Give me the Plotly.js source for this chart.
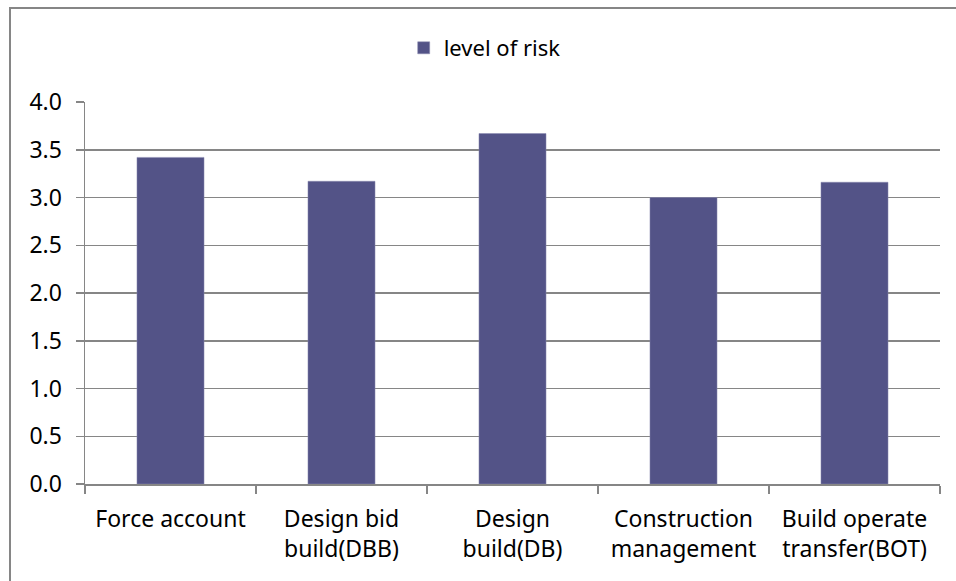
<!DOCTYPE html>
<html>
<head>
<meta charset="utf-8">
<script src="https://cdn.plot.ly/plotly-3.0.1.min.js"></script>
<style>
  html, body { margin: 0; padding: 0; background: #fff; }
  #wrap { position: relative; width: 956px; height: 581px; overflow: hidden; }
  #chart { position: absolute; left: 0; top: 0; width: 956px; height: 581px; }
  #frame { position: absolute; left: 9px; top: 7px; width: 1000px; height: 700px;
           border-left: 2px solid #868686; border-top: 2px solid #868686;
           pointer-events: none; z-index: 10; }
</style>
</head>
<body>
<div id="wrap">
  <div id="chart"></div>
  <div id="frame"></div>
</div>
<script>
const categories = [
  "Force account",
  "Design bid<br>build(DBB)",
  "Design<br>build(DB)",
  "Construction<br>management",
  "Build operate<br>transfer(BOT)"
];
const seriesName = "level of risk";
const levelOfRisk = [3.42, 3.17, 3.67, 3.0, 3.16];
const yTickVals = [0, 0.5, 1, 1.5, 2, 2.5, 3, 3.5, 4];
const yTickText = ["0.0", "0.5", "1.0", "1.5", "2.0", "2.5", "3.0", "3.5", "4.0"];

const FONT = "'Noto Sans', 'Open Sans', sans-serif";

const trace = {
  type: "bar",
  name: seriesName,
  x: categories,
  y: levelOfRisk,
  marker: { color: "#535387", line: { color: "#8a8ab0", width: 0.5 } },
  showlegend: true
};

const layout = {
  width: 956,
  height: 581,
  margin: { l: 85, r: 16, t: 102, b: 97 },
  paper_bgcolor: "#ffffff",
  plot_bgcolor: "#ffffff",
  font: { family: FONT, size: 23, color: "#000000" },
  bargap: 0.608,
  showlegend: true,
  legend: {
    orientation: "h",
    xref: "container",
    yref: "container",
    x: 0.507,
    xanchor: "center",
    y: 1 - 48 / 581,
    yanchor: "middle",
    font: { family: FONT, size: 22, color: "#000" },
    itemwidth: 30,
    bgcolor: "rgba(0,0,0,0)"
  },
  xaxis: {
    type: "category",
    showline: true,
    linecolor: "#868686",
    linewidth: 1.5,
    ticks: "outside",
    tickson: "boundaries",
    ticklen: 8,
    tickwidth: 1.5,
    tickcolor: "#868686",
    showgrid: false,
    tickfont: { family: FONT, size: 23, color: "#000" },
    ticklabelstandoff: 14
  },
  yaxis: {
    range: [0, 4],
    tickmode: "array",
    tickvals: yTickVals,
    ticktext: yTickText,
    showline: true,
    linecolor: "#868686",
    linewidth: 1.5,
    ticks: "outside",
    ticklen: 8,
    tickwidth: 1.5,
    tickcolor: "#868686",
    showgrid: true,
    gridcolor: "#868686",
    gridwidth: 1.5,
    zeroline: false,
    tickfont: { family: FONT, size: 23, color: "#000" },
    ticklabelstandoff: 9
  }
};

Plotly.newPlot("chart", [trace], layout, { displayModeBar: false, staticPlot: true });
</script>
</body>
</html>
